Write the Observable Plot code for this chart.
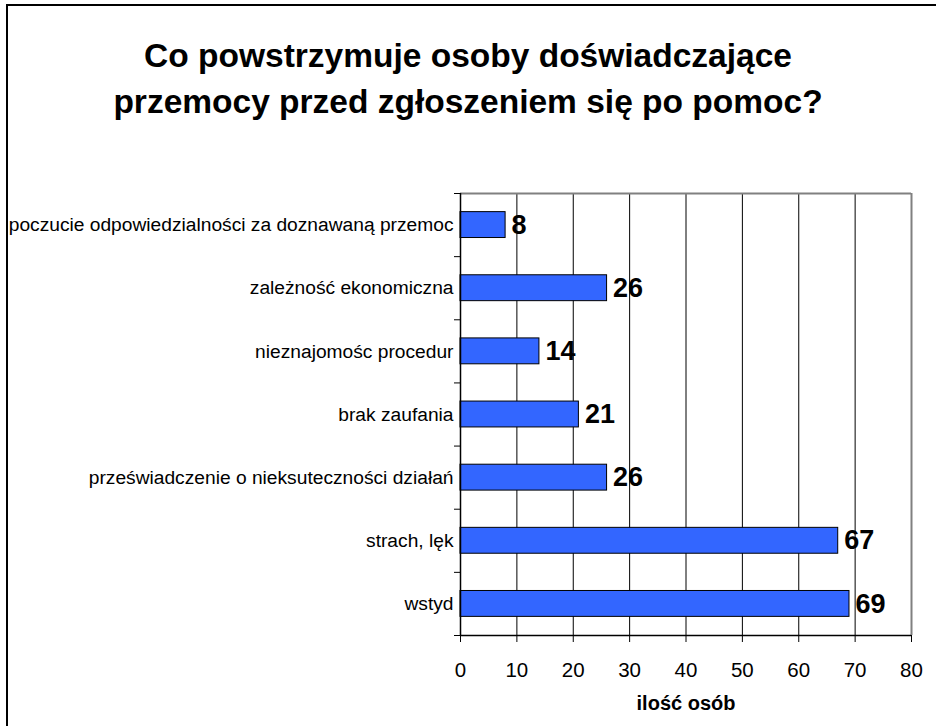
<!DOCTYPE html>
<html>
<head>
<meta charset="utf-8">
<script src="https://cdn.jsdelivr.net/npm/d3@7"></script>
<script src="https://cdn.jsdelivr.net/npm/@observablehq/plot@0.6"></script>
<style>
  html, body { margin: 0; padding: 0; background: #fff; }
  #wrap { position: relative; width: 936px; height: 726px; overflow: hidden; font-family: "Liberation Sans", Arial, sans-serif; }
  #border { position: absolute; left: 6px; top: 4px; width: 960px; height: 760px; border: 2px solid #000; box-sizing: border-box; }
  #title { position: absolute; left: 0; top: 33px; width: 936px; text-align: center; font-weight: bold; font-size: 33.5px; line-height: 46px; color: #000; }
  #chart { position: absolute; left: 0; top: 0; }
</style>
</head>
<body>
<div id="wrap">
  <div id="border"></div>
  <div id="title"></div>
  <div id="chart"></div>
</div>
<script>
const titleLines = ["Co powstrzymuje osoby doświadczające", "przemocy przed zgłoszeniem się po pomoc?"];
const categories = [
  "poczucie odpowiedzialności za doznawaną przemoc",
  "zależność ekonomiczna",
  "nieznajomośc procedur",
  "brak zaufania",
  "przeświadczenie o nieksuteczności działań",
  "strach, lęk",
  "wstyd"
];
const values = [8, 26, 14, 21, 26, 67, 69];
const xTicks = [0, 10, 20, 30, 40, 50, 60, 70, 80];
const xLabel = "ilość osób";

document.getElementById("title").innerHTML = titleLines.join("<br>");

const data = categories.map((c, i) => ({category: c, value: values[i], i}));
const n = categories.length;
const xMax = xTicks[xTicks.length - 1];

const chart = Plot.plot({
  width: 936,
  height: 726,
  marginLeft: 460,
  marginRight: 25,
  marginTop: 193,
  marginBottom: 91,
  style: {fontFamily: "'Liberation Sans', Arial, sans-serif", background: "transparent", color: "#000"},
  x: {domain: [0, xMax], label: null},
  y: {domain: [0, n], reverse: true, label: null},
  marks: [
    Plot.ruleX(xTicks.filter(v => v > 0 && v < xMax), {stroke: "#000", strokeWidth: 1}),
    Plot.ruleX([xMax], {stroke: "#808080", strokeWidth: 2}),
    Plot.ruleY([0], {stroke: "#808080", strokeWidth: 2}),
    Plot.rect(data, {
      x1: 0, x2: "value",
      y1: d => d.i + 0.295, y2: d => d.i + 0.705,
      fill: "#3366FF", stroke: "#000", strokeWidth: 1
    }),
    Plot.ruleX([0], {stroke: "#000", strokeWidth: 1.5}),
    Plot.ruleY([n], {stroke: "#000", strokeWidth: 1.5}),
    Plot.axisX({ticks: xTicks, tickSize: 7, tickPadding: 20, fontSize: 20.5, tickFormat: d => String(d), label: null}),
    Plot.axisY({ticks: d3.range(n + 1), tickSize: 6, tickFormat: () => "", label: null}),
    Plot.text(data, {x: 0, y: d => d.i + 0.5, text: "category", textAnchor: "end", dx: -7, fontSize: 19.2}),
    Plot.text(data, {x: "value", y: d => d.i + 0.5, text: d => String(d.value), textAnchor: "start", dx: 6, fontSize: 27, fontWeight: "bold"}),
    Plot.text([xLabel], {frameAnchor: "bottom", dy: 74, fontSize: 20, fontWeight: "bold"})
  ]
});
document.getElementById("chart").appendChild(chart);
</script>
</body>
</html>
